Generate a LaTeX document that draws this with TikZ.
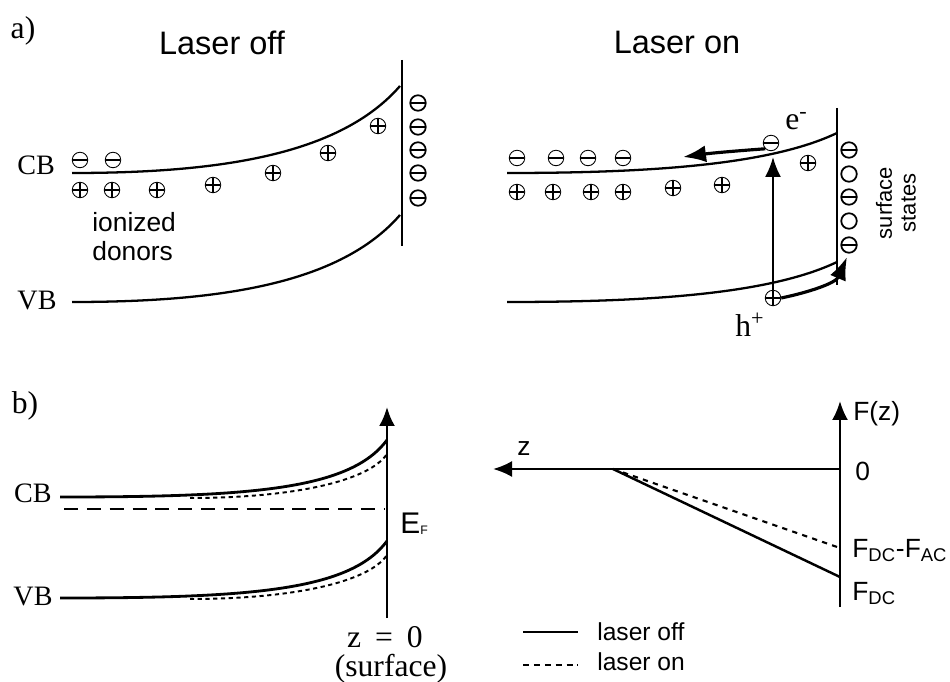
\documentclass[tikz,border=0pt]{standalone}
\usepackage{fontspec}
\setmainfont{Liberation Serif}
\setsansfont{Liberation Sans}
\usetikzlibrary{arrows.meta}

\tikzset{
  chg/.style={circle, draw, inner sep=0pt, minimum size=0.31cm, line width=0.5pt},
  plusq/.style={chg, path picture={\draw[line width=0.8pt]
      (path picture bounding box.north) -- (path picture bounding box.south)
      (path picture bounding box.west) -- (path picture bounding box.east);}},
  minusq/.style={chg, path picture={\draw[line width=1.3pt]
      (path picture bounding box.west) -- (path picture bounding box.east);}},
  surfq/.style={minusq, line width=1pt},
  emptyq/.style={chg, line width=1pt},
  band/.style={line width=1.3pt},
  bandb/.style={line width=1.6pt},
  onb/.style={line width=1.1pt, dash pattern=on 2.4pt off 2pt},
  serlab/.style={font=\fontsize{16}{18}\selectfont},
  serbig/.style={font=\fontsize{18}{20}\selectfont},
  sanlab/.style={font=\sffamily\fontsize{15}{17}\selectfont},
  sanbig/.style={font=\sffamily\fontsize{18.5}{20}\selectfont},
  bigarr/.style={-{Latex[length=0.46cm,width=0.34cm]}, line width=1.8pt},
  axarr/.style={-{Latex[length=0.38cm,width=0.32cm]}, line width=1.5pt},
}

\begin{document}
\begin{tikzpicture}[x=0.02cm, y=-0.02cm, inner sep=0pt]
\useasboundingbox (0,0) rectangle (950,682);

% a) laser off
\node[serbig, anchor=base] (alab) at (23,39) {a)};
\node[sanbig, anchor=base] (offt) at (222,55) {Laser off};
\draw[band] (402,60) coordinate (sa0) -- (402,246);
\draw[band] (72,173) .. controls (220,173) and (340,155) .. (400,86);
\draw[band] (72,302) .. controls (220,302) and (340,284) .. (400,215);
\node[serlab, anchor=base] (cba) at (36,175) {CB};
\node[serlab, anchor=base] (vba) at (37,310) {VB};
\foreach \x [count=\i] in {80,113}
  \node[minusq] (ea\i) at (\x,160) {};
\foreach \x/\y [count=\i] in {80/190,112/190,157/190,213/185,273/173,328/153,378/126}
  \node[plusq] (da\i) at (\x,\y) {};
\foreach \y [count=\i] in {103,127,150,173,198}
  \node[surfq] (sa\i) at (418,\y) {};
\node[sanlab, anchor=base west] (ion) at (92,232) {ionized};
\node[sanlab, anchor=base west] (don) at (92,260) {donors};

% a) laser on
\node[sanbig, anchor=base] (ont) at (677,54) {Laser on};
\draw[band] (837,108) -- (837,285);
\draw[band] (507,173) .. controls (650,173) and (770,165) .. (837,133);
\draw[band] (507,302) .. controls (650,302) and (770,294) .. (837,262);
\foreach \x [count=\i] in {517,556,588,623}
  \node[minusq] (eb\i) at (\x,158) {};
\foreach \x/\y [count=\i] in {517/192,553/192,591/192,623/192,673/188,722/185,808/163}
  \node[plusq] (db\i) at (\x,\y) {};
\foreach \y/\s [count=\i] in {150/surfq,174/emptyq,197/surfq,221/emptyq,245/surfq}
  \node[\s] (sb\i) at (849,\y) {};
\node[font=\sffamily\fontsize{12.5}{13.5}\selectfont, rotate=90, align=center] (sst) at (896,203) {surface\\states};
\node[minusq] (eon) at (771,143) {};
\node[plusq] (hon) at (773,298) {};
\coordinate (cbhit) at (773,157);
\coordinate (etip) at (683,157);
\coordinate (htip) at (847,257);
\draw[-{Latex[length=0.4cm,width=0.32cm]}, line width=1.2pt] (hon.north) -- (cbhit);
\draw[bigarr] (eon.south west) .. controls (735,151) and (712,153) .. (etip);
\draw[bigarr] (hon.east) .. controls (810,292) and (836,283) .. (htip);
\node[serbig, anchor=base west] (elab) at (785,130) {e\textsuperscript{-}};
\node[serbig, anchor=base west] (hlab) at (735,337) {h\textsuperscript{+}};

% b) bands at the surface
\node[serbig, anchor=base] (blab) at (25,413) {b)};
\node[serlab, anchor=base] (cbb) at (33,502) {CB};
\node[serlab, anchor=base] (vbb) at (33,605) {VB};
\coordinate (sbot) at (387,618);
\coordinate (stop) at (387,407);
\draw[axarr] (sbot) -- (stop);
\draw[bandb] (60,497) .. controls (250,497) and (350,490) .. (387,440);
\draw[onb] (190,498) .. controls (290,498) and (368,482) .. (387,454);
\draw[bandb] (60,598) .. controls (250,598) and (350,591) .. (387,541);
\draw[onb] (190,599) .. controls (290,599) and (368,583) .. (387,555);
\draw[line width=0.8pt, dash pattern=on 8pt off 5pt] (64,509) -- (385,509);
\node[anchor=base west, font=\sffamily\fontsize{17}{19}\selectfont] (ef) at (400,533)
  {E\raisebox{-1pt}{\fontsize{7}{7}\selectfont F}};
\node[serbig, anchor=base] (zz) at (385,647) {z\hspace{0.44em}=\hspace{0.44em}0};
\node[serbig, anchor=base] (surf) at (391,676) {(surface)};

% b) field
\coordinate (fbot) at (840,607);
\coordinate (ftop) at (840,401);
\coordinate (zend) at (493,469);
\coordinate (zo) at (840,469);
\coordinate (zs) at (613,469);
\draw[axarr, line width=1.3pt] (fbot) -- (ftop);
\draw[axarr, line width=1.3pt] (zo) -- (zend);
\draw[line width=1.4pt] (zs) -- (840,577);
\draw[line width=1.2pt, dash pattern=on 3pt off 3pt] (zs) -- (840,548);
\node[sanlab, anchor=base west] (fz) at (853,420) {F(z)};
\node[sanlab, anchor=base west] (zlab) at (517,455) {z};
\node[sanlab, anchor=base west] (zero) at (855,480) {0};
\node[sanlab, anchor=base west] (fdiff) at (852,557) {F\textsubscript{DC}-F\textsubscript{AC}};
\node[sanlab, anchor=base west] (fdc) at (852,600) {F\textsubscript{DC}};

% legend
\draw[line width=1.4pt] (523,632) coordinate (lg1) -- (578,632);
\draw[line width=1.2pt, dash pattern=on 3.4pt off 2.8pt] (523,665) coordinate (lg2) -- (578,665);
\node[font=\sffamily\fontsize{14}{16}\selectfont, anchor=base west] (loff) at (597,640) {laser off};
\node[font=\sffamily\fontsize{14}{16}\selectfont, anchor=base west] (lon) at (597,670) {laser on};
\end{tikzpicture}
\end{document}
